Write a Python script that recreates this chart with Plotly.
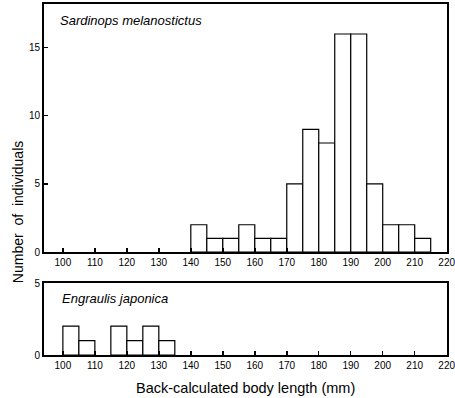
import plotly.graph_objects as go

# Data
sardine_bin_start = [140, 145, 150, 155, 160, 165, 170, 175, 180, 185, 190, 195, 200, 205, 210]
sardine_counts = [2, 1, 1, 2, 1, 1, 5, 9, 8, 16, 16, 5, 2, 2, 1]
anchovy_bin_start = [100, 105, 115, 120, 125, 130]
anchovy_counts = [2, 1, 2, 1, 2, 1]
bin_width = 5
x_ticks = list(range(100, 221, 10))
top_y_ticks = [0, 5, 10, 15]
bottom_y_ticks = [0, 5]

FONT = "Liberation Sans, Arial, sans-serif"

fig = go.Figure()
fig.add_trace(go.Bar(x=sardine_bin_start, y=sardine_counts, width=bin_width, offset=0,
                     marker=dict(color="white", line=dict(color="black", width=1.2)),
                     xaxis="x", yaxis="y", showlegend=False, hoverinfo="skip"))
fig.add_trace(go.Bar(x=anchovy_bin_start, y=anchovy_counts, width=bin_width, offset=0,
                     marker=dict(color="white", line=dict(color="black", width=1.2)),
                     xaxis="x2", yaxis="y2", showlegend=False, hoverinfo="skip"))

axis_common = dict(showline=True, linecolor="black", linewidth=2, mirror=True,
                   ticks="inside", tickcolor="black", tickwidth=1.5, ticklen=4,
                   showgrid=False, zeroline=False, automargin=False,
                   ticklabeloverflow="allow",
                   tickfont=dict(family=FONT, size=10, color="black"))

fig.update_layout(
    width=455, height=398,
    margin=dict(l=44, r=8, t=4, b=43, autoexpand=False),
    plot_bgcolor="white", paper_bgcolor="white",
    bargap=0,
    xaxis=dict(domain=[0, 1], range=[94.1, 220.1], tickvals=x_ticks, anchor="y", **axis_common),
    yaxis=dict(domain=[0.2934, 1], range=[0, 18.2], tickvals=top_y_ticks, anchor="x", **axis_common),
    xaxis2=dict(domain=[0, 1], range=[94.1, 220.1], tickvals=x_ticks, anchor="y2", **axis_common),
    yaxis2=dict(domain=[0, 0.205], range=[0, 5], tickvals=bottom_y_ticks, anchor="x2", **axis_common),
    annotations=[
        dict(text="<i>Sardinops melanostictus</i>", xref="paper", yref="paper",
             x=0.034, y=0.954, xanchor="left", yanchor="middle", showarrow=False,
             font=dict(family=FONT, size=13, color="black")),
        dict(text="<i>Engraulis japonica</i>", xref="paper", yref="paper",
             x=0.039, y=0.162, xanchor="left", yanchor="middle", showarrow=False,
             font=dict(family=FONT, size=13, color="black")),
        dict(text="Back-calculated body length (mm)", xref="paper", yref="paper",
             x=0.5, y=-0.094, xanchor="center", yanchor="middle", showarrow=False,
             font=dict(family=FONT, size=14.5, color="black")),
        dict(text="Number  of  individuals", xref="paper", yref="paper",
             x=-0.0645, y=0.407, xanchor="center", yanchor="middle", showarrow=False,
             textangle=-90, font=dict(family=FONT, size=14, color="black")),
    ],
)

fig.write_html("out.html", config={"displayModeBar": False, "staticPlot": True},
               post_script="document.body.style.margin='0';document.body.style.overflow='hidden';")
